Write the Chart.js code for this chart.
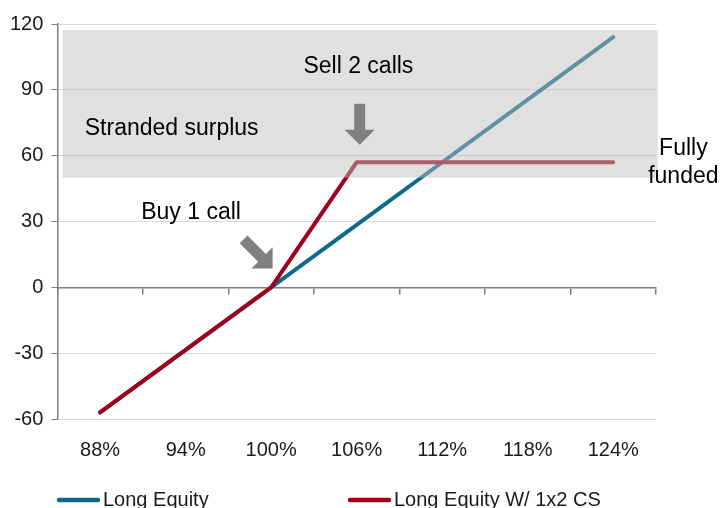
<!DOCTYPE html>
<html>
<head>
<script src="https://cdn.jsdelivr.net/npm/chart.js@4/dist/chart.umd.min.js"></script>
<style>
html, body { margin: 0; padding: 0; background: #fff; }
#chart-container { width: 720px; height: 508px; position: relative; }
</style>
</head>
<body>
<div id="chart-container"><canvas id="payoff"></canvas></div>
<script>
// equity level at expiry (x categories)
var levels = ['88%', '94%', '100%', '106%', '112%', '118%', '124%'];

// payoff of each strategy
var longEquity = [-57, -28.5, 0, 28.5, 57, 85.5, 114];
var longEquityCS = [-57, -28.5, 0, 57, 57, 57, 57];

var yTicks = [-60, -30, 0, 30, 60, 90, 120];

// shaded zone, in category index / value units
var surplusBox = { x0: -0.44, x1: 6.52, y0: 50, y1: 117.3 };

// labels written on the plot (x = category index, y = value)
var notes = [
	{ text: 'Sell 2 calls', x: 3.02, y: 100.5, align: 'center' },
	{ text: 'Stranded surplus', x: -0.18, y: 72.3, align: 'left' },
	{ text: 'Buy 1 call', x: 0.48, y: 34, align: 'left' },
	{ text: 'Fully', x: 6.82, y: 63, align: 'center' },
	{ text: 'funded', x: 6.82, y: 50.3, align: 'center' }
];

// block arrows: tip position and pointing direction in degrees
var arrows = [
	{ x: 3.035, y: 65, angle: 90 },
	{ x: 2.017, y: 8.6, angle: 45 }
];

var FONT = "'Liberation Sans', Arial, sans-serif";
var TEAL = '#0d6a8a';
var RED = '#a0001e';
var AXIS = '#808080';

function drawArrow(ctx, tx, ty, angle) {
	var len = 41, head = 15, headHalf = 15, shaftHalf = 5.5;
	ctx.save();
	ctx.translate(tx, ty);
	ctx.rotate(angle * Math.PI / 180);
	ctx.beginPath();
	ctx.moveTo(0, 0);
	ctx.lineTo(-head, -headHalf);
	ctx.lineTo(-head, -shaftHalf);
	ctx.lineTo(-len, -shaftHalf);
	ctx.lineTo(-len, shaftHalf);
	ctx.lineTo(-head, shaftHalf);
	ctx.lineTo(-head, headHalf);
	ctx.closePath();
	ctx.fillStyle = AXIS;
	ctx.fill();
	ctx.restore();
}

var overlay = {
	id: 'overlay',
	afterDatasetsDraw: function(chart) {
		var ctx = chart.ctx,
			xs = chart.scales.x,
			ys = chart.scales.y;

		// translucent box sits over the lines
		var left = xs.getPixelForValue(surplusBox.x0),
			right = xs.getPixelForValue(surplusBox.x1),
			top = ys.getPixelForValue(surplusBox.y1),
			bottom = ys.getPixelForValue(surplusBox.y0);
		ctx.save();
		ctx.fillStyle = 'rgba(190,190,190,0.48)';
		ctx.fillRect(left, top, right - left, bottom - top);
		ctx.restore();

		arrows.forEach(function(a) {
			drawArrow(ctx, xs.getPixelForValue(a.x), ys.getPixelForValue(a.y), a.angle);
		});

		ctx.save();
		ctx.font = '23px ' + FONT;
		ctx.fillStyle = '#000';
		ctx.textBaseline = 'middle';
		notes.forEach(function(n) {
			ctx.textAlign = n.align;
			ctx.fillText(n.text, xs.getPixelForValue(n.x), ys.getPixelForValue(n.y));
		});
		ctx.restore();
	},
	afterDraw: function(chart) {
		// legend along the bottom edge
		var ctx = chart.ctx,
			spots = [57, 348],
			lineY = 500;
		ctx.save();
		ctx.font = '20px ' + FONT;
		ctx.textBaseline = 'alphabetic';
		ctx.textAlign = 'left';
		chart.data.datasets.forEach(function(ds, i) {
			var x = spots[i];
			ctx.strokeStyle = ds.borderColor;
			ctx.lineWidth = 4.5;
			ctx.lineCap = 'round';
			ctx.beginPath();
			ctx.moveTo(x + 2, lineY);
			ctx.lineTo(x + 41, lineY);
			ctx.stroke();
			ctx.fillStyle = '#1a1a1a';
			ctx.fillText(ds.label, x + 46, lineY + 6);
		});
		ctx.restore();
	}
};

new Chart(document.getElementById('payoff'), {
	type: 'line',
	data: {
		labels: levels,
		datasets: [
			{
				label: 'Long Equity',
				data: longEquity,
				borderColor: TEAL,
				order: 1
			},
			{
				label: 'Long Equity W/ 1x2 CS',
				data: longEquityCS,
				borderColor: RED,
				order: 0
			}
		]
	},
	options: {
		responsive: true,
		maintainAspectRatio: false,
		animation: false,
		layout: { padding: { left: 2, right: 64, top: 24, bottom: 27 } },
		elements: {
			line: { borderWidth: 4, tension: 0, borderCapStyle: 'round', borderJoinStyle: 'round' },
			point: { radius: 0, hoverRadius: 0 }
		},
		plugins: {
			legend: { display: false },
			tooltip: { enabled: false }
		},
		scales: {
			x: {
				type: 'category',
				offset: true,
				grid: { display: false, drawTicks: false },
				border: { display: false },
				ticks: { color: '#1a1a1a', padding: 19, font: { family: FONT, size: 20 } }
			},
			// zero line with its little ticks between categories
			x2: {
				type: 'category',
				position: { y: 0 },
				offset: true,
				grid: { drawOnChartArea: false, offset: true, tickLength: 6, tickColor: AXIS, lineWidth: 1.5 },
				border: { color: AXIS, width: 1.5 },
				ticks: { display: false }
			},
			y: {
				min: -60,
				max: 120,
				afterBuildTicks: function(scale) {
					scale.ticks = yTicks.map(function(v) { return { value: v }; });
				},
				grid: {
					color: function(c) { return c.tick && c.tick.value === 0 ? 'rgba(0,0,0,0)' : '#d9d9d9'; },
					tickColor: AXIS,
					tickLength: 6
				},
				border: { color: AXIS, width: 1.5 },
				ticks: { color: '#1a1a1a', padding: 8, font: { family: FONT, size: 20 } }
			}
		}
	},
	plugins: [overlay]
});
</script>
</body>
</html>
